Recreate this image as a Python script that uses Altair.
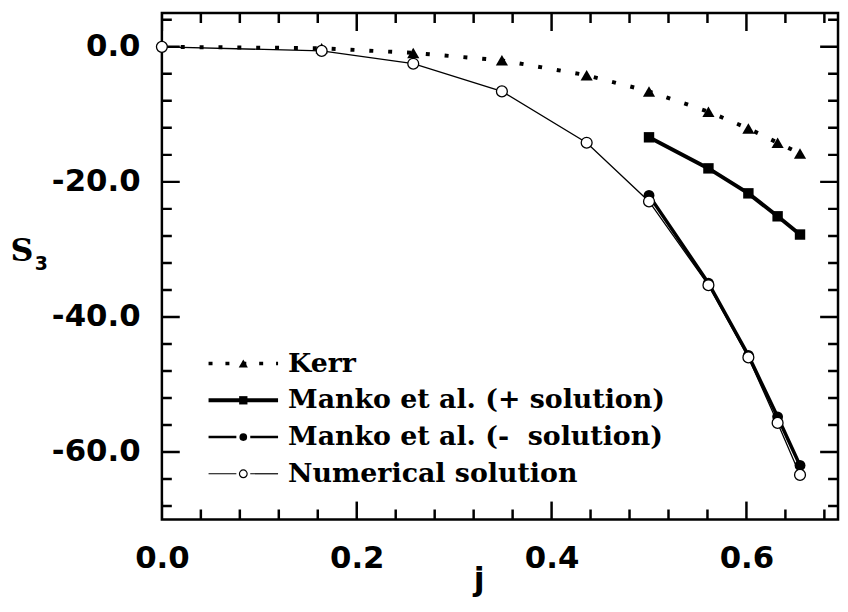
import altair as alt
import pandas as pd

# ---------------- data ----------------
kerr_j = [0.0, 0.164, 0.258, 0.349, 0.436, 0.500, 0.561, 0.602, 0.632, 0.655]
kerr_s = [0.0, -0.2, -0.9, -2.0, -4.2, -6.6, -9.6, -12.1, -14.2, -15.8]
kerr_mark = [False, True, True, True, True, True, True, True, True, True]

mplus_j = [0.500, 0.561, 0.602, 0.632, 0.655]
mplus_s = [-13.4, -18.0, -21.7, -25.1, -27.8]

mminus_j = [0.500, 0.561, 0.602, 0.632, 0.655]
mminus_s = [-22.0, -35.0, -45.7, -54.8, -62.0]

num_j = [0.0, 0.164, 0.258, 0.349, 0.436, 0.500, 0.561, 0.602, 0.632, 0.655]
num_s = [0.0, -0.6, -2.5, -6.6, -14.2, -22.9, -35.3, -46.0, -55.7, -63.4]

legend_labels = ["Kerr", "Manko et al. (+ solution)",
                 "Manko et al. (-\u00a0 solution)", "Numerical solution"]

x_label_vals = [0.0, 0.2, 0.4, 0.6]
x_minor = [0.04, 0.08, 0.12, 0.16, 0.24, 0.28, 0.32, 0.36,
           0.44, 0.48, 0.52, 0.56, 0.64, 0.68]
y_label_vals = [0, -20, -40, -60]
y_minor = [4, -4, -8, -12, -16, -24, -28, -32, -36,
           -44, -48, -52, -56, -64, -68]

X_MIN, X_MAX = 0.0, 0.694
Y_MIN, Y_MAX = -70, 5

# ---------------- layout ----------------
W, H = 681, 510
MAJ, MIN = 18, 10
TW = 2.5

xs = alt.Scale(domain=[X_MIN, X_MAX], nice=False, zero=False)
ys = alt.Scale(domain=[Y_MIN, Y_MAX], nice=False, zero=False)

x_axis = alt.Axis(values=x_label_vals, format=".1f", title="j", ticks=False,
                  domain=False, grid=False, labelFlush=False,
                  labelFont="DejaVu Sans",
                  labelFontWeight="bold", labelFontSize=31, labelPadding=24,
                  labelColor="black", titleFont="DejaVu Sans",
                  titleFontWeight="bold", titleFontSize=32, titleColor="black",
                  titleX=319, titleY=46, titleBaseline="top", titleAlign="center")
y_axis = alt.Axis(values=y_label_vals, labelFlush=False,
                  labelExpr="(datum.value < 0 ? '-' : '') + format(abs(datum.value), '.1f')",
                  title="S", ticks=False, domain=False, grid=False,
                  labelFont="DejaVu Sans", labelFontWeight="bold",
                  labelFontSize=31, labelPadding=22, labelColor="black",
                  titleFont="DejaVu Serif", titleFontWeight="bold",
                  titleFontSize=32, titleColor="black", titleAngle=0,
                  titleX=-153, titleY=239, titleAlign="left",
                  titleBaseline="middle")

X = lambda f: alt.X(f, scale=xs, axis=x_axis)
Y = lambda f: alt.Y(f, scale=ys, axis=y_axis)

layers = []

# ticks on four sides (inward): ticks centred on the frame, clipped to the plot
def xticks(vals, ln):
    d = pd.DataFrame({"t": vals})
    b = alt.Chart(d).mark_tick(color="black", thickness=TW, size=2 * ln,
                               orient="vertical", clip=True, opacity=1)
    return [b.encode(x=X("t:Q"), y=alt.Y(datum=Y_MIN, scale=ys, axis=y_axis)),
            b.encode(x=X("t:Q"), y=alt.Y(datum=Y_MAX, scale=ys, axis=y_axis))]

def yticks(vals, ln):
    d = pd.DataFrame({"t": vals})
    b = alt.Chart(d).mark_tick(color="black", thickness=TW, size=2 * ln,
                               orient="horizontal", clip=True, opacity=1)
    return [b.encode(y=Y("t:Q"), x=alt.X(datum=X_MIN, scale=xs, axis=x_axis)),
            b.encode(y=Y("t:Q"), x=alt.X(datum=X_MAX, scale=xs, axis=x_axis))]

layers += xticks(x_label_vals, MAJ) + xticks(x_minor, MIN)
layers += yticks(y_label_vals, MAJ) + yticks(y_minor, MIN)

kerr_df = pd.DataFrame({"j": kerr_j, "s": kerr_s, "m": kerr_mark})
mplus_df = pd.DataFrame({"j": mplus_j, "s": mplus_s})
mminus_df = pd.DataFrame({"j": mminus_j, "s": mminus_s})
num_df = pd.DataFrame({"j": num_j, "s": num_s})

enc = dict(x=X("j:Q"), y=Y("s:Q"))

# lines
layers.append(alt.Chart(num_df).mark_line(color="black", strokeWidth=1.3).encode(**enc))
layers.append(alt.Chart(mminus_df).mark_line(color="black", strokeWidth=3.5).encode(**enc))
layers.append(alt.Chart(mplus_df).mark_line(color="black", strokeWidth=4).encode(**enc))
layers.append(alt.Chart(kerr_df).mark_line(color="black", strokeWidth=4,
              strokeDash=[4, 15], strokeCap="butt").encode(**enc))

# markers
layers.append(alt.Chart(kerr_df).transform_filter("datum.m").mark_point(
    shape="triangle-up", filled=True, color="black", size=150, opacity=1).encode(**enc))
layers.append(alt.Chart(mplus_df).mark_point(
    shape="square", filled=True, color="black", size=110, opacity=1).encode(**enc))
layers.append(alt.Chart(mminus_df).mark_point(
    shape="circle", filled=True, color="black", size=120, opacity=1).encode(**enc))
layers.append(alt.Chart(num_df).mark_point(
    shape="circle", filled=True, fill="white", stroke="black", strokeWidth=1.3,
    size=120, opacity=1).encode(**enc))

# subscript of the y title
sub_df = pd.DataFrame({"t": ["3"]})
layers.append(alt.Chart(sub_df).mark_text(
    align="left", baseline="middle", font="DejaVu Sans", fontWeight="bold",
    fontSize=19, color="black").encode(
    x=alt.value(-128), y=alt.value(253), text="t:N"))

# ---------------- legend ----------------
LX0, LX1, LXM, LXT = 47, 117, 82, 127
LY0, LDY = 353, 37
leg_styles = [
    dict(line=dict(strokeWidth=3.5, strokeDash=[4, 13], strokeCap="butt"),
         pt=dict(shape="triangle-up", filled=True, color="black", size=85)),
    dict(line=dict(strokeWidth=4),
         pt=dict(shape="square", filled=True, color="black", size=70)),
    dict(line=dict(strokeWidth=2.5, strokeDash=[28, 14]),
         pt=dict(shape="circle", filled=True, color="black", size=60)),
    dict(line=dict(strokeWidth=1.2, strokeDash=[28, 14]),
         pt=dict(shape="circle", filled=True, fill="white", stroke="black",
                 strokeWidth=1.2, size=60)),
]
for i, (lab, st) in enumerate(zip(legend_labels, leg_styles)):
    d = pd.DataFrame({"label": [lab]})
    yy = LY0 + i * LDY
    layers.append(alt.Chart(d).mark_rule(color="black", **st["line"]).encode(
        x=alt.value(LX0), x2=alt.value(LX1), y=alt.value(yy)))
    layers.append(alt.Chart(d).mark_point(opacity=1, **st["pt"]).encode(
        x=alt.value(LXM), y=alt.value(yy)))
    layers.append(alt.Chart(d).mark_text(
        align="left", baseline="middle", font="DejaVu Serif", fontWeight="bold",
        fontSize=27, color="black").encode(
        x=alt.value(LXT), y=alt.value(yy), text="label:N"))

chart = alt.layer(*layers).properties(
    width=W, height=H, background="white",
    padding={"left": 155, "top": 3, "right": 2, "bottom": 77},
    autosize=alt.AutoSizeParams(type="none"),
).configure_view(stroke="black", strokeWidth=2.5)

chart.save("out.html", embed_options={"renderer": "svg", "actions": False})
